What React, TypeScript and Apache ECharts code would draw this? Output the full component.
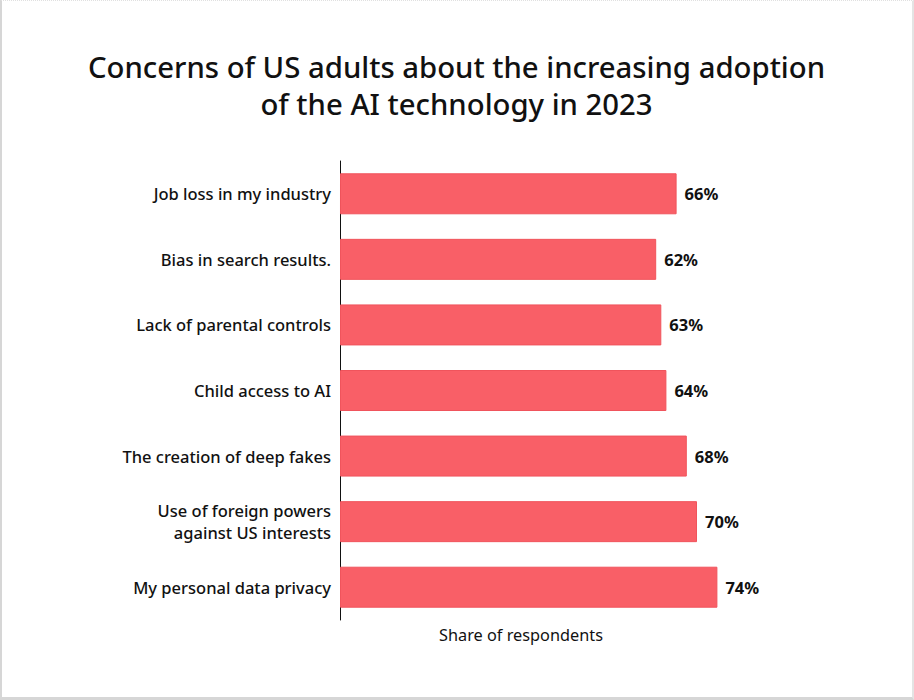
import React, { useEffect, useRef } from "react";
import * as echarts from "echarts";

const categories = [
  "Job loss in my industry",
  "Bias in search results.",
  "Lack of parental controls",
  "Child access to AI",
  "The creation of deep fakes",
  "Use of foreign powers\nagainst US interests",
  "My personal data privacy",
];
const values = [66, 62, 63, 64, 68, 70, 74];
const titleLines = [
  "Concerns of US adults about the increasing adoption",
  "of the AI technology in 2023",
];
const axisName = "Share of respondents";

const FONT = "'Noto Sans', 'Open Sans', sans-serif";

export default function App() {
  const ref = useRef<HTMLDivElement>(null);
  useEffect(() => {
    document.body.style.margin = "0";
    const chart = echarts.init(ref.current!, undefined, { renderer: "svg" });
    chart.setOption({
      animation: false,
      backgroundColor: "#ffffff",
      title: {
        text: titleLines.join("\n"),
        left: "center",
        top: 43,
        textStyle: {
          fontFamily: FONT,
          fontSize: 29.3,
          fontWeight: 500,
          color: "#111111",
          lineHeight: 36.5,
        },
      },
      grid: { left: 338, top: 160, width: 510, height: 459 },
      xAxis: {
        type: "value",
        min: 0,
        max: 100,
        show: false,
      },
      yAxis: {
        type: "category",
        data: categories,
        inverse: true,
        axisLine: { show: true, lineStyle: { color: "#111111", width: 1 } },
        axisTick: { show: false },
        axisLabel: {
          margin: 9,
          fontFamily: FONT,
          fontSize: 16.5,
          fontWeight: 500,
          color: "#111111",
          lineHeight: 22,
          align: "right",
        },
      },
      series: [
        {
          type: "bar",
          data: values,
          barWidth: 41,
          itemStyle: {
            color: "#F95F67",
            borderColor: "#F0545C",
            borderWidth: 1,
          },
          label: {
            show: true,
            position: "right",
            distance: 8,
            formatter: "{c}%",
            fontFamily: FONT,
            fontSize: 16.5,
            fontWeight: 700,
            color: "#111111",
          },
        },
      ],
      graphic: [
        {
          type: "text",
          x: 519,
          y: 634,
          style: {
            text: axisName,
            fontFamily: FONT,
            fontSize: 16.3,
            fill: "#111111",
            align: "center",
            verticalAlign: "middle",
          },
        },
      ],
    });
    return () => chart.dispose();
  }, []);
  return (
    <div
      style={{
        width: 914,
        height: 700,
        boxSizing: "border-box",
        borderLeft: "2px solid #d6d6d6",
        borderRight: "2px solid #e4e4e4",
        borderBottom: "3px solid #d6d6d6",
        borderTop: "1px dotted #e0e0e0",
        background: "#fff",
      }}
    >
      <div ref={ref} style={{ width: 909, height: 696 }} />
    </div>
  );
}
